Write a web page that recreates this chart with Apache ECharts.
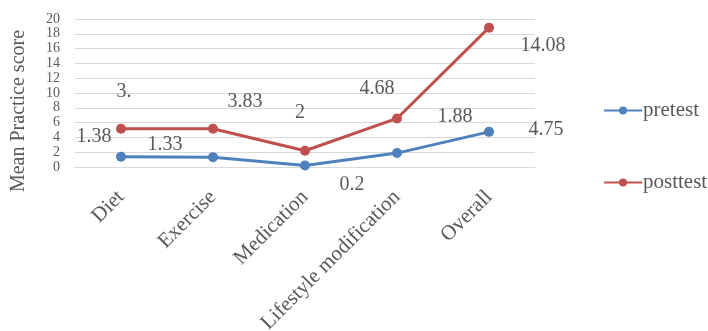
<!DOCTYPE html>
<html>
<head>
<meta charset="utf-8">
<script src="https://cdn.jsdelivr.net/npm/echarts@6/dist/echarts.min.js"></script>
<style>
  html, body { margin: 0; padding: 0; background: #fff; }
  #chart { width: 708px; height: 331px; }
</style>
</head>
<body>
<div id="chart"></div>
<script>
// Practice scores per domain
var categories = ['Diet', 'Exercise', 'Medication', 'Lifestyle modification', 'Overall'];
var pretest = [1.38, 1.33, 0.2, 1.88, 4.75];
var posttest = [3.8, 3.83, 2, 4.68, 14.08];
var posttestLabels = ['3.', '3.83', '2', '4.68', '14.08'];
var yTicks = { min: 0, max: 20, interval: 2 };

// Label nudges (px) so the value tags sit beside their points
var preOffsets = [[-27, -20], [-48, -12], [47, 19], [58, -36], [57, -2]];
var postOffsets = [[3, -37], [32, -27], [-5, -38], [-20, -30], [54, 18]];

var FONT = 'Liberation Serif';
var TEXT = '#595959';

function labelled(values, offsets, texts) {
  return values.map(function (v, i) {
    return {
      value: v,
      label: {
        offset: offsets[i],
        formatter: texts ? texts[i] : String(v)
      }
    };
  });
}

var chart = echarts.init(document.getElementById('chart'));
chart.setOption({
  animation: false,
  textStyle: { fontFamily: FONT, color: TEXT },
  grid: {
    left: 75, right: 173, top: 19, bottom: 164,
    containLabel: false,
    outerBoundsMode: 'none'
  },
  xAxis: {
    type: 'category',
    data: categories,
    boundaryGap: true,
    axisLine: { show: true, lineStyle: { color: '#d9d9d9', width: 1 } },
    axisTick: { show: false },
    axisLabel: {
      rotate: 45,
      margin: 27,
      fontFamily: FONT,
      fontSize: 21,
      color: TEXT,
      interval: 0
    }
  },
  yAxis: {
    type: 'value',
    min: yTicks.min,
    max: yTicks.max,
    interval: yTicks.interval,
    axisLine: { show: false },
    axisTick: { show: false },
    splitLine: { lineStyle: { color: '#d9d9d9', width: 1 } },
    axisLabel: {
      fontFamily: FONT, fontSize: 14, lineHeight: 12, color: TEXT, margin: 15,
      hideOverlap: false,
      showMinLabel: true,
      showMaxLabel: true
    }
  },
  legend: {
    orient: 'vertical',
    left: 598,
    top: 95,
    itemWidth: 38,
    itemHeight: 10,
    itemGap: 51,
    textStyle: { fontFamily: FONT, fontSize: 21, color: TEXT, padding: [0, 0, 0, -4] },
    data: ['pretest', 'posttest']
  },
  graphic: [{
    type: 'text',
    rotation: Math.PI / 2,
    x: 19,
    y: 111,
    style: {
      text: 'Mean Practice score',
      font: '20px "Liberation Serif"',
      fill: TEXT,
      align: 'center',
      verticalAlign: 'middle'
    }
  }],
  series: [
    {
      name: 'pretest',
      type: 'line',
      stack: 'total',
      data: labelled(pretest, preOffsets),
      symbol: 'circle',
      symbolSize: 10,
      lineStyle: { color: '#4F81BD', width: 3 },
      itemStyle: { color: '#4F81BD' },
      label: {
        show: true,
        position: 'inside',
        fontFamily: FONT,
        fontSize: 20,
        color: TEXT
      }
    },
    {
      name: 'posttest',
      type: 'line',
      stack: 'total',
      data: labelled(posttest, postOffsets, posttestLabels),
      symbol: 'circle',
      symbolSize: 10,
      lineStyle: { color: '#C0504D', width: 3 },
      itemStyle: { color: '#C0504D' },
      label: {
        show: true,
        position: 'inside',
        fontFamily: FONT,
        fontSize: 20,
        color: TEXT
      }
    }
  ]
});
</script>
</body>
</html>
